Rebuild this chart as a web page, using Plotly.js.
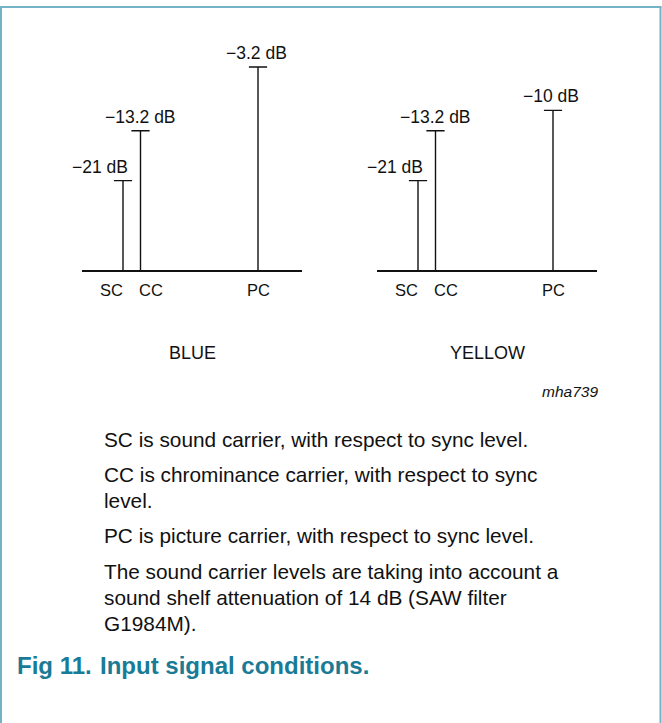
<!DOCTYPE html>
<html>
<head>
<meta charset="utf-8">
<script src="https://cdn.plot.ly/plotly-3.0.1.min.js"></script>
<style>
  html, body { margin: 0; padding: 0; background: #ffffff; }
  #chart { width: 662px; height: 723px; }
</style>
</head>
<body>
<div id="chart"></div>
<script>
// ---- data ----
const carriers = ['SC', 'CC', 'PC'];
const carrierPos = [41, 58.5, 176];          // relative frequency position (schematic)
const blueLevels = [-21, -13.2, -3.2];       // dB, w.r.t. sync level
const yellowLevels = [-21, -13.2, -10];      // dB, w.r.t. sync level
const panelNames = ['BLUE', 'YELLOW'];
const drawingCode = 'mha739';
const noteLines = [
  'SC is sound carrier, with respect to sync level.',
  'CC is chrominance carrier, with respect to sync',
  'level.',
  'PC is picture carrier, with respect to sync level.',
  'The sound carrier levels are taking into account a',
  'sound shelf attenuation of 14 dB (SAW filter',
  'G1984M).'
];
const figNumber = 'Fig 11.';
const figTitle = 'Input signal conditions.';

// ---- style ----
const W = 662, H = 723;
const FONT = "'Liberation Sans', Arial, Helvetica, sans-serif";
const INK = '#111111';
const TEAL = '#197b96';
const BORDER = '#74b3c6';
const yFloor = -35, yTop = 0;
const basePx = 270, topPx = 46.5;
const yDomain = [(H - basePx) / H, (H - topPx) / H];
const xDomains = [[82 / W, 302 / W], [377 / W, 597 / W]];
const xRange = [0, 220];
const labelShiftX = {SC: -12, CC: 10, PC: 0};
const py = px => (H - px) / H;

const panels = [blueLevels, yellowLevels];
const traces = [];
const annotations = [];

panels.forEach((levels, i) => {
  const xa = i === 0 ? 'x' : 'x2';
  const sx = [], sy = [];
  levels.forEach((v, k) => {
    sx.push(carrierPos[k], carrierPos[k], null);
    sy.push(yFloor, v, null);
  });
  traces.push({
    type: 'scatter', mode: 'lines', x: sx, y: sy, xaxis: xa, yaxis: 'y',
    line: {color: INK, width: 1.4}, hoverinfo: 'skip', showlegend: false
  });
  traces.push({
    type: 'scatter', mode: 'markers', x: carrierPos, y: levels, xaxis: xa, yaxis: 'y',
    marker: {symbol: 'line-ew-open', size: 13, color: INK, line: {color: INK, width: 1.4}},
    hoverinfo: 'skip', showlegend: false
  });
  levels.forEach((v, k) => {
    const isSC = carriers[k] === 'SC';
    annotations.push({
      xref: xa, yref: 'y', x: carrierPos[k], y: v,
      text: '\u2212' + Math.abs(v) + ' dB',
      showarrow: false,
      xanchor: isSC ? 'right' : 'center',
      xshift: isSC ? 7 : (carriers[k] === 'PC' ? -2 : 0),
      yanchor: 'middle', yshift: 14,
      font: {family: FONT, size: 17.5, color: INK}
    });
    annotations.push({
      xref: xa, yref: 'y', x: carrierPos[k], y: yFloor,
      text: carriers[k], showarrow: false,
      xanchor: 'center', xshift: labelShiftX[carriers[k]],
      yanchor: 'middle', yshift: -20,
      font: {family: FONT, size: 16.5, color: INK}
    });
  });
  annotations.push({
    xref: (i === 0 ? 'x' : 'x2') + ' domain', yref: 'paper',
    x: 0.5, y: py(352.5), xanchor: 'center', yanchor: 'middle',
    text: panelNames[i], showarrow: false,
    font: {family: FONT, size: 18, color: INK}
  });
});

annotations.push({
  xref: 'paper', yref: 'paper', x: 600 / W, y: py(391.5),
  xanchor: 'right', yanchor: 'middle', showarrow: false,
  text: '<i>' + drawingCode + '</i>',
  font: {family: FONT, size: 15.5, color: INK}
});

const noteCenters = [439.5, 474.5, 500.5, 535.5, 571.5, 597.5, 623.5];
noteLines.forEach((t, j) => {
  annotations.push({
    xref: 'paper', yref: 'paper', x: 102 / W, y: py(noteCenters[j]),
    xanchor: 'left', yanchor: 'middle', showarrow: false, text: t,
    font: {family: FONT, size: 20.8, color: INK}
  });
});

annotations.push({
  xref: 'paper', yref: 'paper', x: 15 / W, y: py(665),
  xanchor: 'left', yanchor: 'middle', showarrow: false,
  text: '<b>' + figNumber + '</b>',
  font: {family: FONT, size: 24, color: TEAL}
});
annotations.push({
  xref: 'paper', yref: 'paper', x: 98 / W, y: py(665),
  xanchor: 'left', yanchor: 'middle', showarrow: false,
  text: '<b>' + figTitle + '</b>',
  font: {family: FONT, size: 24, color: TEAL}
});

const axisX = dom => ({
  domain: dom, range: xRange, showline: true, linecolor: INK, linewidth: 2,
  showgrid: false, zeroline: false, showticklabels: false, ticks: '',
  fixedrange: true, anchor: 'y'
});

const layout = {
  width: W, height: H,
  margin: {l: 0, r: 0, t: 0, b: 0},
  paper_bgcolor: '#ffffff', plot_bgcolor: 'rgba(0,0,0,0)',
  showlegend: false,
  xaxis: axisX(xDomains[0]),
  xaxis2: axisX(xDomains[1]),
  yaxis: {domain: yDomain, range: [yFloor, yTop], visible: false, fixedrange: true},
  annotations: annotations,
  shapes: [
    {type: 'line', xref: 'paper', yref: 'paper', x0: 1 / W, x1: 1 / W, y0: 0, y1: py(7),
     line: {color: BORDER, width: 2}},
    {type: 'line', xref: 'paper', yref: 'paper', x0: 0, x1: 661.5 / W, y0: py(7), y1: py(7),
     line: {color: BORDER, width: 2}},
    {type: 'line', xref: 'paper', yref: 'paper', x0: 660.5 / W, x1: 660.5 / W, y0: 0, y1: py(7),
     line: {color: BORDER, width: 2}}
  ]
};

Plotly.newPlot('chart', traces, layout, {displayModeBar: false, staticPlot: true});
</script>
</body>
</html>
